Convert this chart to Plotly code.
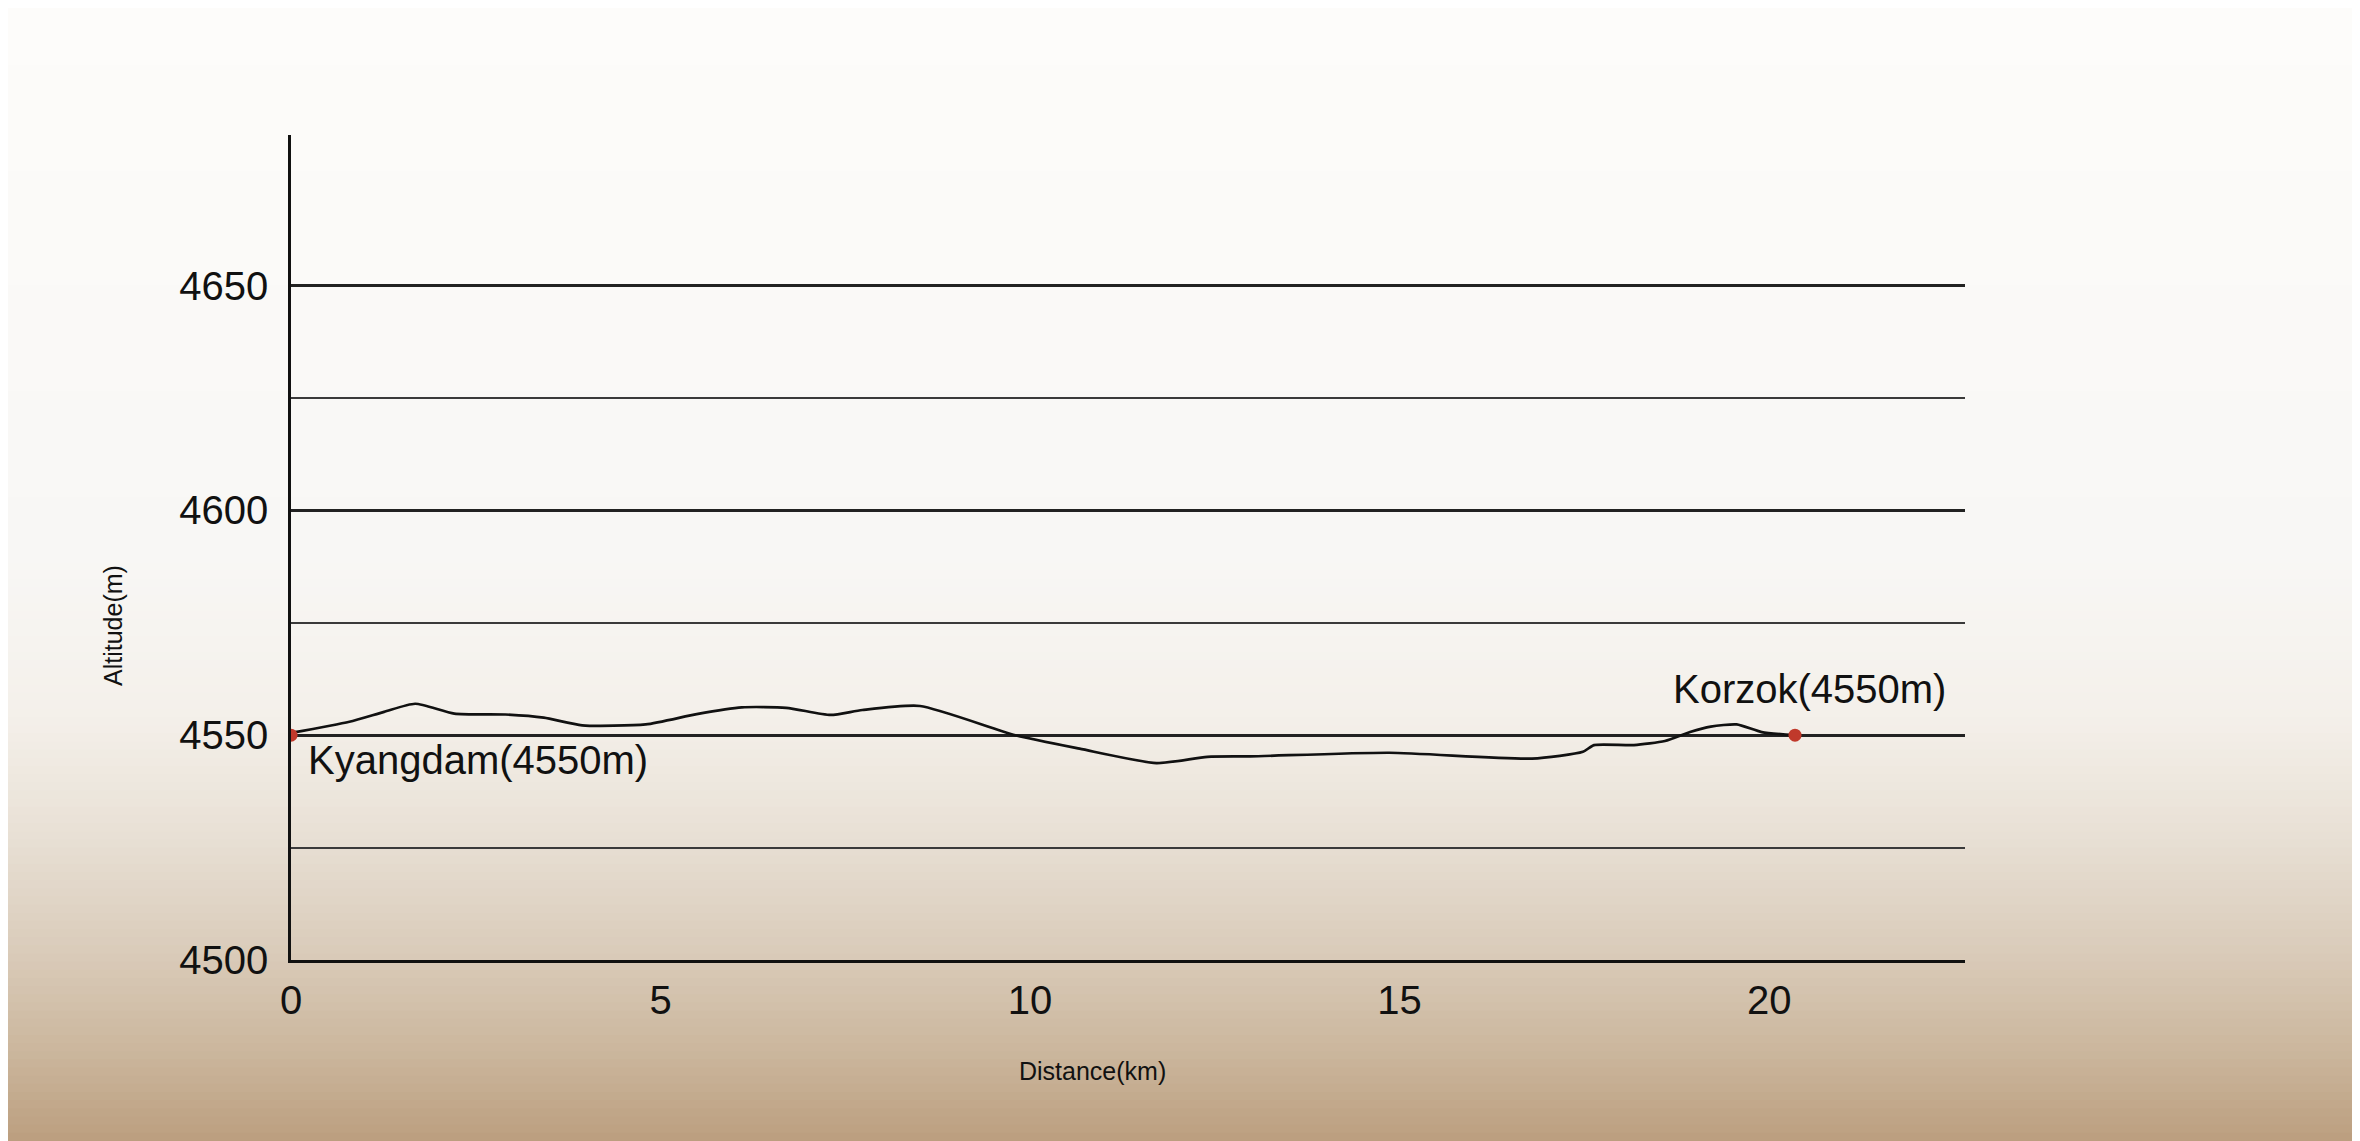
"""Elevation profile Kyangdam -> Korzok, drawn with Plotly."""

import plotly.graph_objects as go

# ---- data -----------------------------------------------------------------
distance_km = [0, 0.79, 1.26, 1.68, 2.21, 2.90, 3.42, 3.94, 4.80, 5.49, 6.10,
               6.70, 7.30, 7.73, 8.51, 9.80, 10.67, 11.71, 12.40, 12.98, 14.86,
               16.79, 17.48, 17.63, 18.17, 18.59, 18.93, 19.21, 19.56, 19.90,
               20.35]
altitude_m = [4550.5, 4553.0, 4555.2, 4557.0, 4554.8, 4554.6, 4553.9, 4552.2,
              4552.4, 4554.7, 4556.2, 4556.1, 4554.5, 4555.6, 4556.5, 4550.0,
              4547.0, 4543.8, 4545.2, 4545.3, 4546.1, 4544.8, 4546.3, 4547.8,
              4547.8, 4548.7, 4550.7, 4551.9, 4552.4, 4550.7, 4550.0]

place_names = ["Kyangdam(4550m)", "Korzok(4550m)"]
place_km = [0, 20.35]
place_alt = [4550, 4550]

y_ticks = [4500, 4550, 4600, 4650]
x_ticks = [0, 5, 10, 15, 20]

# background wash, top -> bottom
bg_stops = [(0.00, (253, 252, 250)), (0.48, (248, 247, 245)),
            (0.62, (244, 240, 234)), (0.72, (233, 225, 214)),
            (0.82, (219, 205, 188)), (0.92, (202, 181, 155)),
            (1.00, (186, 156, 124))]

W, H = 2360, 1141
L, R, T, B = 283, 403, 127, 189
FONT = "Liberation Sans, Arial, Helvetica, sans-serif"
INK = "#111111"


def _bg_color(f):
    for (f0, c0), (f1, c1) in zip(bg_stops, bg_stops[1:]):
        if f0 <= f <= f1:
            k = (f - f0) / (f1 - f0)
            r, g, b = (round(a + (b_ - a) * k) for a, b_ in zip(c0, c1))
            return f"rgb({r},{g},{b})"
    return "rgb(186,156,124)"


def _paper_y(px):
    return (H - B - px) / (H - T - B)


def _paper_x(px):
    return (px - L) / (W - L - R)


shapes = []
bands = 140
for i in range(bands):
    top, bot = H * i / bands, H * (i + 1) / bands + 1
    shapes.append(dict(
        type="rect", xref="paper", yref="paper", layer="below",
        x0=_paper_x(-10), x1=_paper_x(W + 10), y0=_paper_y(bot), y1=_paper_y(top),
        line_width=0, fillcolor=_bg_color((i + 0.5) / bands),
    ))

fig = go.Figure()
fig.add_trace(go.Scatter(
    x=distance_km, y=altitude_m, mode="lines",
    line=dict(color=INK, width=2.7, shape="spline", smoothing=0.6),
    hoverinfo="skip", showlegend=False,
))
fig.add_trace(go.Scatter(
    x=place_km, y=place_alt, mode="markers",
    marker=dict(color="#c0392b", size=13),
    text=place_names, hoverinfo="text", showlegend=False,
))

fig.add_annotation(x=place_km[0] + 0.2, y=4544.5, text=place_names[0],
                   xanchor="left", yanchor="middle", showarrow=False,
                   font=dict(size=40, color=INK, family=FONT))
fig.add_annotation(x=20.55, y=4560.3, text=place_names[1],
                   xanchor="center", yanchor="middle", showarrow=False,
                   font=dict(size=40, color=INK, family=FONT))

# axis titles placed by hand, like the original
fig.add_annotation(xref="paper", yref="paper", x=_paper_x(1084),
                   y=_paper_y(1079), text="Distance(km)", showarrow=False,
                   font=dict(size=25, color=INK, family=FONT))
fig.add_annotation(xref="paper", yref="paper", x=_paper_x(89),
                   y=_paper_y(618), text="Altitude(m)", showarrow=False,
                   textangle=-90, font=dict(size=25, color=INK, family=FONT))

fig.update_xaxes(
    range=[0, 22.65], tickvals=x_ticks, showgrid=False, zeroline=False,
    showline=True, linecolor=INK, linewidth=3, ticks="",
    ticklabelstandoff=3, tickfont=dict(size=40, color=INK, family=FONT),
)
fig.update_yaxes(
    range=[4500, 4683.5], tickvals=y_ticks, showgrid=True,
    gridcolor="#222222", gridwidth=2.8, zeroline=False,
    showline=True, linecolor=INK, linewidth=2.5, ticks="",
    ticklabelstandoff=12, tickfont=dict(size=40, color=INK, family=FONT),
    minor=dict(tickvals=[4525, 4575, 4625], showgrid=True,
               gridcolor="#3a3a3a", gridwidth=2.4),
)

fig.update_layout(
    width=W, height=H, margin=dict(l=L, r=R, t=T, b=B, autoexpand=False),
    paper_bgcolor="rgba(0,0,0,0)", plot_bgcolor="rgba(0,0,0,0)",
    shapes=shapes, font=dict(family=FONT),
)

fig.write_html("out.html")
